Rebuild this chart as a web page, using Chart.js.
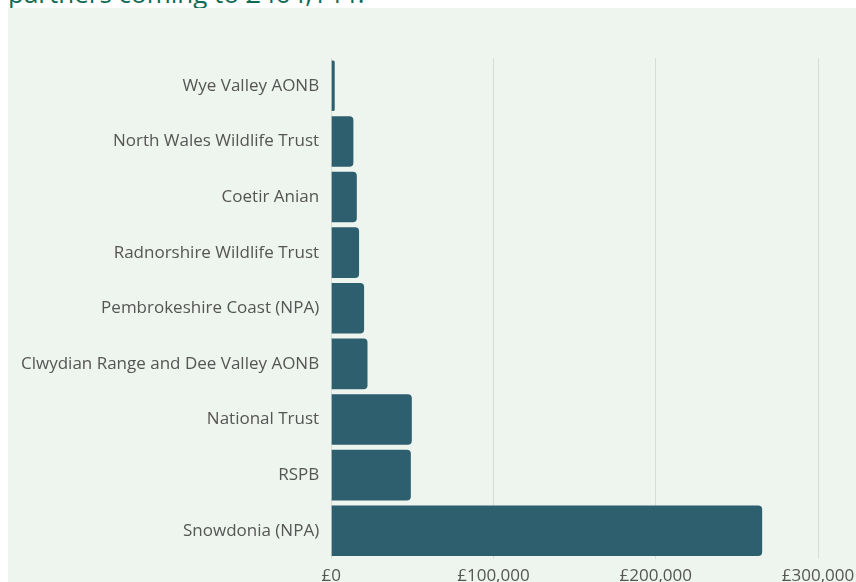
<!DOCTYPE html>
<html>
<head>
<meta charset="utf-8">
<script src="https://cdn.jsdelivr.net/npm/chart.js@4/dist/chart.umd.min.js"></script>
<style>
  html, body { margin: 0; padding: 0; background: #ffffff; width: 856px; height: 582px; overflow: hidden; position: relative; }
  #title { position: absolute; left: 8px; top: -22px; font-family: "Open Sans", sans-serif; font-size: 26px; line-height: 30px; color: #0d6b55; white-space: nowrap; }
  #panel { position: absolute; left: 8px; top: 8px; width: 848px; height: 600px; background: #eef5ee; }
  #wrap { position: absolute; left: 8px; top: 8px; width: 848px; height: 600px; }
</style>
</head>
<body>
<div id="title">partners coming to £464,144?</div>
<div id="panel"></div>
<div id="wrap"><canvas id="c"></canvas></div>
<script>
const categories = [
  "Wye Valley AONB",
  "North Wales Wildlife Trust",
  "Coetir Anian",
  "Radnorshire Wildlife Trust",
  "Pembrokeshire Coast (NPA)",
  "Clwydian Range and Dee Valley AONB",
  "National Trust",
  "RSPB",
  "Snowdonia (NPA)"
];
const funding = [2200, 13700, 15800, 17200, 20300, 22400, 49700, 49100, 265600];
const xTicks = [0, 100000, 200000, 300000];

new Chart(document.getElementById('c'), {
  type: 'bar',
  data: {
    labels: categories,
    datasets: [{
      data: funding,
      backgroundColor: '#2e5f6f',
      borderRadius: 4,
      borderSkipped: 'start',
      barPercentage: 0.91,
      categoryPercentage: 1.0
    }]
  },
  options: {
    indexAxis: 'y',
    responsive: true,
    maintainAspectRatio: false,
    animation: false,
    layout: { padding: { top: 50, right: 38, bottom: 15, left: 1 } },
    plugins: { legend: { display: false }, tooltip: { enabled: false } },
    scales: {
      x: {
        min: 0, max: 300000,
        afterBuildTicks: (axis) => { axis.ticks = xTicks.map(v => ({ value: v })); },
        afterFit: (s) => { s.paddingRight = 0; s.paddingLeft = 0; },
        grid: { color: '#d6dcd6', drawTicks: false, lineWidth: 1 },
        border: { display: false },
        ticks: {
          padding: 7,
          color: '#555555',
          font: { family: 'Open Sans', size: 17 },
          callback: (v) => '£' + Number(v).toLocaleString('en-GB'),
          maxRotation: 0
        }
      },
      y: {
        grid: { display: false, drawTicks: false },
        border: { display: false },
        ticks: {
          padding: 12,
          color: '#555555',
          font: { family: 'Open Sans', size: 17 }
        }
      }
    }
  }
});
</script>
</body>
</html>
